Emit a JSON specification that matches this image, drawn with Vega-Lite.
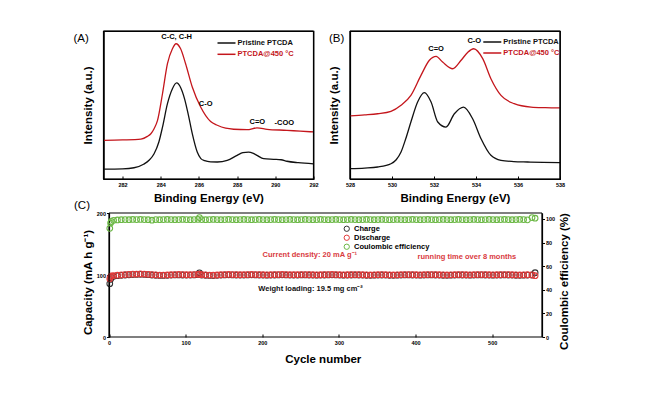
{
"$schema":"https://vega.github.io/schema/vega-lite/v6.json",
"background":"white",
"padding":{"left":72.5,"top":29,"right":5,"bottom":5},
"config":{
 "font":"Liberation Sans",
 "view":{"stroke":"#000000","strokeWidth":1.2},
 "axis":{"domain":true,"domainColor":"#000","domainWidth":1.2,"tickColor":"#000","tickWidth":1,"labelColor":"#000","titleColor":"#000","labelFont":"Liberation Sans","titleFont":"Liberation Sans","labelFontWeight":"bold","titleFontWeight":"bold","labelFontSize":5.5,"titleFontSize":11.5,"grid":false,"labelOverlap":false,"labelFlush":false},
 "title":{"font":"Liberation Sans","fontSize":11.5,"fontWeight":"normal","color":"#000","anchor":"start","frame":"group"},
 "legend":{"labelFont":"Liberation Sans","labelFontWeight":"bold","labelFontSize":7.5,"padding":0}
},
"datasets":{
 "xpsA":[
  {"s":"Pristine PTCDA","e":281.0,"i":6.7},{"s":"Pristine PTCDA","e":282.0,"i":6.9},{"s":"Pristine PTCDA","e":282.6,"i":7.6},{"s":"Pristine PTCDA","e":283.1,"i":10.0},{"s":"Pristine PTCDA","e":283.4,"i":12.8},{"s":"Pristine PTCDA","e":283.65,"i":17.1},{"s":"Pristine PTCDA","e":283.9,"i":25},{"s":"Pristine PTCDA","e":284.09,"i":35},{"s":"Pristine PTCDA","e":284.35,"i":50.9},{"s":"Pristine PTCDA","e":284.61,"i":61},{"s":"Pristine PTCDA","e":284.83,"i":64.9},{"s":"Pristine PTCDA","e":285.05,"i":61.5},{"s":"Pristine PTCDA","e":285.25,"i":54},{"s":"Pristine PTCDA","e":285.45,"i":43},{"s":"Pristine PTCDA","e":285.65,"i":30.6},{"s":"Pristine PTCDA","e":285.91,"i":18.2},{"s":"Pristine PTCDA","e":286.1,"i":13.8},{"s":"Pristine PTCDA","e":286.3,"i":12.4},{"s":"Pristine PTCDA","e":286.61,"i":11.6},{"s":"Pristine PTCDA","e":286.96,"i":11.5},{"s":"Pristine PTCDA","e":287.48,"i":12.6},{"s":"Pristine PTCDA","e":288.0,"i":16},{"s":"Pristine PTCDA","e":288.3,"i":17.8},{"s":"Pristine PTCDA","e":288.6,"i":18.2},{"s":"Pristine PTCDA","e":288.85,"i":17.3},{"s":"Pristine PTCDA","e":289.04,"i":16},{"s":"Pristine PTCDA","e":289.39,"i":13.7},{"s":"Pristine PTCDA","e":289.91,"i":13.3},{"s":"Pristine PTCDA","e":290.3,"i":13.0},{"s":"Pristine PTCDA","e":290.61,"i":12.0},{"s":"Pristine PTCDA","e":291.2,"i":11.0},{"s":"Pristine PTCDA","e":292.0,"i":10.2},
  {"s":"PTCDA@450 °C","e":281.0,"i":26.1},{"s":"PTCDA@450 °C","e":282.0,"i":26.4},{"s":"PTCDA@450 °C","e":282.96,"i":27},{"s":"PTCDA@450 °C","e":283.3,"i":28.8},{"s":"PTCDA@450 °C","e":283.48,"i":30.6},{"s":"PTCDA@450 °C","e":283.65,"i":34},{"s":"PTCDA@450 °C","e":283.83,"i":39.6},{"s":"PTCDA@450 °C","e":284.09,"i":57.6},{"s":"PTCDA@450 °C","e":284.35,"i":77.9},{"s":"PTCDA@450 °C","e":284.61,"i":88},{"s":"PTCDA@450 °C","e":284.8,"i":91.4},{"s":"PTCDA@450 °C","e":285.04,"i":88},{"s":"PTCDA@450 °C","e":285.3,"i":77.9},{"s":"PTCDA@450 °C","e":285.65,"i":62.2},{"s":"PTCDA@450 °C","e":286.09,"i":48.6},{"s":"PTCDA@450 °C","e":286.61,"i":38.8},{"s":"PTCDA@450 °C","e":286.96,"i":36.3},{"s":"PTCDA@450 °C","e":287.4,"i":34.3},{"s":"PTCDA@450 °C","e":287.82,"i":33.6},{"s":"PTCDA@450 °C","e":288.52,"i":33.3},{"s":"PTCDA@450 °C","e":289.04,"i":34.5},{"s":"PTCDA@450 °C","e":289.57,"i":33.6},{"s":"PTCDA@450 °C","e":290.61,"i":32.9},{"s":"PTCDA@450 °C","e":291.3,"i":32.3},{"s":"PTCDA@450 °C","e":292.0,"i":31.8}
 ],
 "xpsB":[
  {"s":"Pristine PTCDA","e":528.0,"i":7},{"s":"Pristine PTCDA","e":528.7,"i":7.4},{"s":"Pristine PTCDA","e":529.32,"i":8.1},{"s":"Pristine PTCDA","e":529.95,"i":10.3},{"s":"Pristine PTCDA","e":530.2,"i":13},{"s":"Pristine PTCDA","e":530.43,"i":18.2},{"s":"Pristine PTCDA","e":530.65,"i":27},{"s":"Pristine PTCDA","e":530.9,"i":38.5},{"s":"Pristine PTCDA","e":531.22,"i":52},{"s":"Pristine PTCDA","e":531.54,"i":58.3},{"s":"Pristine PTCDA","e":531.86,"i":52},{"s":"Pristine PTCDA","e":532.18,"i":38.5},{"s":"Pristine PTCDA","e":532.57,"i":35.1},{"s":"Pristine PTCDA","e":532.97,"i":44.1},{"s":"Pristine PTCDA","e":533.41,"i":48.6},{"s":"Pristine PTCDA","e":533.84,"i":40.7},{"s":"Pristine PTCDA","e":534.24,"i":27.2},{"s":"Pristine PTCDA","e":534.71,"i":16},{"s":"Pristine PTCDA","e":535.19,"i":12.6},{"s":"Pristine PTCDA","e":535.8,"i":11.8},{"s":"Pristine PTCDA","e":536.46,"i":11.5},{"s":"Pristine PTCDA","e":537.2,"i":11.2},{"s":"Pristine PTCDA","e":538.0,"i":11},
  {"s":"PTCDA@450 °C","e":528.0,"i":42.6},{"s":"PTCDA@450 °C","e":528.7,"i":43.3},{"s":"PTCDA@450 °C","e":529.32,"i":44.1},{"s":"PTCDA@450 °C","e":529.95,"i":45.7},{"s":"PTCDA@450 °C","e":530.43,"i":49.8},{"s":"PTCDA@450 °C","e":530.9,"i":56.5},{"s":"PTCDA@450 °C","e":531.38,"i":70},{"s":"PTCDA@450 °C","e":531.78,"i":80.2},{"s":"PTCDA@450 °C","e":532.1,"i":82.9},{"s":"PTCDA@450 °C","e":532.41,"i":79},{"s":"PTCDA@450 °C","e":532.89,"i":74.5},{"s":"PTCDA@450 °C","e":533.29,"i":80.2},{"s":"PTCDA@450 °C","e":533.6,"i":85.5},{"s":"PTCDA@450 °C","e":533.89,"i":88},{"s":"PTCDA@450 °C","e":534.32,"i":81.3},{"s":"PTCDA@450 °C","e":534.71,"i":67.8},{"s":"PTCDA@450 °C","e":535.19,"i":56.5},{"s":"PTCDA@450 °C","e":535.82,"i":50.9},{"s":"PTCDA@450 °C","e":536.62,"i":48.6},{"s":"PTCDA@450 °C","e":537.3,"i":48.2},{"s":"PTCDA@450 °C","e":538.0,"i":48}
 ],
 "cyc":[
  {"n":1,"c":86,"d":94,"e":92},{"n":2,"c":93,"d":97,"e":96.5},{"n":3,"c":96,"d":98.5,"e":97.8},{"n":6,"c":97.8,"d":99.0,"e":98.8},{"n":11,"c":98.8,"d":99.7,"e":99.1},{"n":16,"c":99.5,"d":100.2,"e":99.3},{"n":21,"c":100.0,"d":100.7,"e":99.4},{"n":26,"c":100.4,"d":101.1,"e":99.3},{"n":31,"c":100.7,"d":101.4,"e":99.5},{"n":36,"c":100.9,"d":101.6,"e":99.4},{"n":41,"c":101.1,"d":101.8,"e":99.5},{"n":46,"c":100.9,"d":101.6,"e":99.4},{"n":51,"c":100.5,"d":101.2,"e":99.3},{"n":56,"c":100.0,"d":100.7,"e":98.9},{"n":61,"c":99.6,"d":100.2,"e":99.4},{"n":66,"c":99.3,"d":99.9,"e":99.3},{"n":71,"c":99.2,"d":99.8,"e":99.4},{"n":76,"c":99.5,"d":100.1,"e":99.5},{"n":81,"c":99.8,"d":100.4,"e":99.4},{"n":86,"c":100.1,"d":100.7,"e":99.3},{"n":91,"c":100.2,"d":100.9,"e":99.4},{"n":96,"c":100.0,"d":100.7,"e":99.5},{"n":101,"c":99.8,"d":100.4,"e":99.4},{"n":106,"c":99.9,"d":100.5,"e":99.3},{"n":111,"c":100.2,"d":100.8,"e":99.4},{"n":116,"c":100.5,"d":101.1,"e":99.5},{"n":118,"c":103.5,"d":101.3,"e":101.1},{"n":121,"c":100.0,"d":100.6,"e":99.4},{"n":126,"c":99.6,"d":100.2,"e":99.3},{"n":131,"c":99.2,"d":99.8,"e":99.4},{"n":136,"c":99.1,"d":99.7,"e":99.5},{"n":141,"c":99.4,"d":100.0,"e":99.4},{"n":146,"c":99.8,"d":100.4,"e":99.3},{"n":151,"c":100.1,"d":100.7,"e":99.4},{"n":156,"c":100.3,"d":100.9,"e":99.5},{"n":161,"c":100.2,"d":100.8,"e":99.4},{"n":166,"c":100.0,"d":100.6,"e":99.3},{"n":171,"c":99.8,"d":100.4,"e":99.4},{"n":176,"c":99.9,"d":100.5,"e":99.5},{"n":181,"c":100.1,"d":100.7,"e":99.4},{"n":186,"c":100.3,"d":100.9,"e":99.3},{"n":191,"c":100.2,"d":100.8,"e":99.4},{"n":196,"c":100.0,"d":100.6,"e":99.5},{"n":201,"c":99.8,"d":100.4,"e":99.4},{"n":206,"c":99.7,"d":100.3,"e":99.3},{"n":211,"c":99.8,"d":100.4,"e":99.4},{"n":216,"c":100.0,"d":100.6,"e":99.5},{"n":221,"c":100.2,"d":100.8,"e":99.4},{"n":226,"c":100.3,"d":100.9,"e":99.3},{"n":231,"c":100.1,"d":100.7,"e":99.4},{"n":236,"c":99.9,"d":100.5,"e":99.5},{"n":241,"c":99.8,"d":100.4,"e":99.4},{"n":246,"c":99.9,"d":100.5,"e":99.3},{"n":251,"c":100.1,"d":100.7,"e":99.4},{"n":256,"c":100.2,"d":100.8,"e":99.5},{"n":261,"c":100.0,"d":100.6,"e":99.4},{"n":266,"c":99.8,"d":100.4,"e":99.3},{"n":271,"c":99.7,"d":100.3,"e":99.4},{"n":276,"c":99.8,"d":100.4,"e":99.5},{"n":281,"c":100.0,"d":100.6,"e":99.4},{"n":286,"c":100.2,"d":100.8,"e":99.3},{"n":291,"c":100.3,"d":100.9,"e":99.4},{"n":296,"c":100.1,"d":100.7,"e":99.5},{"n":301,"c":99.9,"d":100.5,"e":99.4},{"n":306,"c":99.7,"d":100.3,"e":99.3},{"n":311,"c":99.8,"d":100.4,"e":99.4},{"n":316,"c":100.0,"d":100.6,"e":99.5},{"n":321,"c":100.1,"d":100.7,"e":99.4},{"n":326,"c":100.0,"d":100.6,"e":99.3},{"n":331,"c":99.8,"d":100.4,"e":99.4},{"n":336,"c":99.6,"d":100.2,"e":99.5},{"n":341,"c":99.5,"d":100.1,"e":99.4},{"n":346,"c":99.7,"d":100.3,"e":99.3},{"n":351,"c":99.9,"d":100.5,"e":99.4},{"n":356,"c":100.0,"d":100.6,"e":99.5},{"n":361,"c":99.9,"d":100.5,"e":99.4},{"n":366,"c":99.6,"d":100.2,"e":99.3},{"n":371,"c":99.5,"d":100.1,"e":99.4},{"n":376,"c":99.7,"d":100.3,"e":99.5},{"n":381,"c":99.9,"d":100.5,"e":99.4},{"n":386,"c":100.1,"d":100.7,"e":99.3},{"n":391,"c":100.2,"d":100.8,"e":99.4},{"n":396,"c":100.0,"d":100.6,"e":99.5},{"n":401,"c":99.8,"d":100.4,"e":99.4},{"n":406,"c":99.7,"d":100.3,"e":99.3},{"n":411,"c":99.9,"d":100.5,"e":99.4},{"n":416,"c":100.1,"d":100.7,"e":99.5},{"n":421,"c":100.2,"d":100.8,"e":99.4},{"n":426,"c":100.0,"d":100.6,"e":99.3},{"n":431,"c":99.8,"d":100.4,"e":99.4},{"n":436,"c":99.6,"d":100.2,"e":99.5},{"n":441,"c":99.5,"d":100.1,"e":99.4},{"n":446,"c":99.7,"d":100.3,"e":99.3},{"n":451,"c":99.9,"d":100.5,"e":99.4},{"n":456,"c":100.1,"d":100.7,"e":99.5},{"n":461,"c":100.0,"d":100.6,"e":99.4},{"n":466,"c":99.8,"d":100.4,"e":99.3},{"n":471,"c":99.7,"d":100.3,"e":99.4},{"n":476,"c":99.9,"d":100.5,"e":99.5},{"n":481,"c":100.1,"d":100.7,"e":99.4},{"n":486,"c":100.2,"d":100.8,"e":99.3},{"n":491,"c":100.0,"d":100.6,"e":99.4},{"n":496,"c":99.8,"d":100.4,"e":99.5},{"n":501,"c":99.7,"d":100.3,"e":99.4},{"n":506,"c":99.8,"d":100.4,"e":99.3},{"n":511,"c":100.0,"d":100.6,"e":99.4},{"n":516,"c":100.1,"d":100.7,"e":99.5},{"n":521,"c":100.0,"d":100.6,"e":99.4},{"n":526,"c":99.8,"d":100.4,"e":99.3},{"n":531,"c":99.6,"d":100.2,"e":99.4},{"n":536,"c":99.5,"d":100.1,"e":99.5},{"n":541,"c":99.7,"d":100.3,"e":99.4},{"n":546,"c":99.8,"d":100.4,"e":99.2},{"n":552,"c":100.0,"d":100.2,"e":101.1},{"n":556,"c":103.7,"d":98.9,"e":100.6}
 ]
},
"resolve":{"scale":{"color":"independent"}},
"spacing":-6,
"vconcat":[
 {"hconcat":[
  {"width":210,"height":148,
   "view":{"stroke":"#000000","strokeWidth":1.2},
   "title":{"text":"(A)","dx":-30,"dy":14,"offset":0},
   "layer":[
    {"data":{"name":"xpsA"},
     "mark":{"type":"line","interpolate":"monotone","strokeWidth":1.3},
     "encoding":{
      "x":{"field":"e","type":"quantitative","scale":{"domain":[281,292],"nice":false,"zero":false},
           "axis":{"title":"Binding Energy (eV)","values":[282,284,286,288,290,292],"format":"d","labelOverlap":false,"labelFlush":false,"tickSize":-3,"labelPadding":6,"titlePadding":5}},
      "y":{"field":"i","type":"quantitative","scale":{"domain":[0,100],"nice":false},"axis":{"title":"Intensity (a.u.)","labels":false,"ticks":false,"domain":true,"titlePadding":10.5}},
      "color":{"field":"s","type":"nominal","scale":{"domain":["Pristine PTCDA","PTCDA@450 °C"],"range":["#111111","#c4161c"]},
        "legend":{"orient":"none","legendX":117.5,"legendY":6.5,"title":null,"symbolType":"M-2,0H2","symbolSize":81,"symbolStrokeWidth":1.5,"rowPadding":2.3,"labelOffset":5.5,"padding":0,
          "encode":{"labels":{"update":{"fill":{"signal":"datum.value === 'Pristine PTCDA' ? '#111111' : '#c4161c'"}}}}}}
     }},
    {"data":{"values":[{"t":"C-C, C-H","e":284.83,"i":96},{"t":"C-O","e":286.35,"i":50.7},{"t":"C=O","e":289.06,"i":38.5},{"t":"-COO","e":290.47,"i":37.8}]},
     "mark":{"type":"text","fontSize":7.5,"fontWeight":"bold","color":"#000"},
     "encoding":{"x":{"field":"e","type":"quantitative"},"y":{"field":"i","type":"quantitative"},"text":{"field":"t"}}},
    {"data":{"values":[{}]},"mark":{"type":"rule","color":"#000","strokeWidth":1.2},"encoding":{"x":{"datum":281},"x2":{"datum":292},"y":{"datum":100}}},
    {"data":{"values":[{}]},"mark":{"type":"rule","color":"#000","strokeWidth":1.2},"encoding":{"x":{"datum":281},"x2":{"datum":292},"y":{"datum":0}}},
    {"data":{"values":[{}]},"mark":{"type":"rule","color":"#000","strokeWidth":1.2},"encoding":{"x":{"datum":281},"y":{"datum":0},"y2":{"datum":100}}},
    {"data":{"values":[{}]},"mark":{"type":"rule","color":"#000","strokeWidth":1.2},"encoding":{"x":{"datum":292},"y":{"datum":0},"y2":{"datum":100}}}
   ]},
  {"width":210,"height":148,
   "view":{"stroke":"#000000","strokeWidth":1.2},
   "title":{"text":"(B)","dx":-21,"dy":14,"offset":0},
   "layer":[
    {"data":{"name":"xpsB"},
     "mark":{"type":"line","interpolate":"monotone","strokeWidth":1.3},
     "encoding":{
      "x":{"field":"e","type":"quantitative","scale":{"domain":[528,538],"nice":false,"zero":false},
           "axis":{"title":"Binding Energy (eV)","values":[528,530,532,534,536,538],"format":"d","labelOverlap":false,"labelFlush":false,"tickSize":-3,"labelPadding":6,"titlePadding":5}},
      "y":{"field":"i","type":"quantitative","scale":{"domain":[0,100],"nice":false},"axis":{"title":"Intensity (a.u.)","labels":false,"ticks":false,"domain":true,"titlePadding":10.5}},
      "color":{"field":"s","type":"nominal","scale":{"domain":["Pristine PTCDA","PTCDA@450 °C"],"range":["#111111","#c4161c"]},
        "legend":{"orient":"none","legendX":136.8,"legendY":5.5,"title":null,"symbolType":"M-2,0H2","symbolSize":81,"symbolStrokeWidth":1.5,"rowPadding":2,"labelOffset":5.5,"padding":0,
          "encode":{"labels":{"update":{"fill":{"signal":"datum.value === 'Pristine PTCDA' ? '#111111' : '#c4161c'"}}}}}}
     }},
    {"data":{"values":[{"t":"C=O","e":532.1,"i":87.6},{"t":"C-O","e":533.92,"i":93}]},
     "mark":{"type":"text","fontSize":7.5,"fontWeight":"bold","color":"#000"},
     "encoding":{"x":{"field":"e","type":"quantitative"},"y":{"field":"i","type":"quantitative"},"text":{"field":"t"}}},
    {"data":{"values":[{}]},"mark":{"type":"rule","color":"#000","strokeWidth":1.2},"encoding":{"x":{"datum":528},"x2":{"datum":538},"y":{"datum":100}}},
    {"data":{"values":[{}]},"mark":{"type":"rule","color":"#000","strokeWidth":1.2},"encoding":{"x":{"datum":528},"x2":{"datum":538},"y":{"datum":0}}},
    {"data":{"values":[{}]},"mark":{"type":"rule","color":"#000","strokeWidth":1.2},"encoding":{"x":{"datum":528},"y":{"datum":0},"y2":{"datum":100}}},
    {"data":{"values":[{}]},"mark":{"type":"rule","color":"#000","strokeWidth":1.2},"encoding":{"x":{"datum":538},"y":{"datum":0},"y2":{"datum":100}}}
   ]}
 ],"spacing":36.5,"bounds":"flush","resolve":{"scale":{"color":"independent"}}},
 {"width":438.5,"height":124,
  "view":{"stroke":null},
  "title":{"text":"(C)","dx":-29.5,"offset":0},
  "layer":[
   {"layer":[
    {"data":{"name":"cyc"},"mark":{"type":"point","filled":false,"size":32,"strokeWidth":1.1,"opacity":1},
     "encoding":{
      "x":{"field":"n","type":"quantitative","scale":{"domain":[-7.2,565],"nice":false,"zero":false},
           "axis":{"title":"Cycle number","values":[0,100,200,300,400,500],"format":"d","labelOverlap":false,"labelFlush":false,"domain":false,"tickSize":-3,"labelPadding":6,"titlePadding":8}},
      "y":{"field":"c","type":"quantitative","scale":{"domain":[0,200],"nice":false},
           "axis":{"title":"Capacity (mA h g⁻¹)","offset":-5.5,"values":[0,50,100,150,200],"format":"d","labelOverlap":false,"labelFlush":false,"tickSize":2.5,"labelPadding":1,"titlePadding":3,"titleY":69}},
      "color":{"datum":"Charge","type":"nominal","scale":{"domain":["Charge","Discharge","Coulombic efficiency"],"range":["#333333","#e23b3b","#6cb846"]},
        "legend":{"orient":"none","legendX":239.5,"legendY":12,"title":null,"symbolSize":28,"symbolStrokeWidth":1,"rowPadding":-1,"labelOffset":3.5,"padding":0,
          "encode":{"labels":{"update":{"fill":{"signal":"datum.value === 'Charge' ? '#111111' : datum.value === 'Discharge' ? '#e23b3b' : '#5aa83a'"}}}}}}
     }},
    {"data":{"name":"cyc"},"mark":{"type":"point","filled":false,"size":32,"strokeWidth":1.1,"opacity":1},
     "encoding":{"x":{"field":"n","type":"quantitative"},"y":{"field":"d","type":"quantitative"},"color":{"datum":"Discharge","type":"nominal"}}},
    {"data":{"values":[{"t":"Current density: 20 mA g⁻¹","n":262,"v":132},{"t":"running time over 8 months","n":467,"v":129}]},
     "mark":{"type":"text","fontSize":7.5,"fontWeight":"bold","color":"#d9393e"},
     "encoding":{"x":{"field":"n","type":"quantitative"},"y":{"field":"v","type":"quantitative"},"text":{"field":"t"}}},
    {"data":{"values":[{"t":"Weight loading: 19.5 mg cm⁻²","n":263,"v":77}]},
     "mark":{"type":"text","fontSize":7.5,"fontWeight":"bold","color":"#111111"},
     "encoding":{"x":{"field":"n","type":"quantitative"},"y":{"field":"v","type":"quantitative"},"text":{"field":"t"}}},
    {"data":{"values":[{}]},"mark":{"type":"rule","color":"#000","strokeWidth":1.2},"encoding":{"x":{"datum":0},"x2":{"datum":565},"y":{"datum":200}}},
    {"data":{"values":[{}]},"mark":{"type":"rule","color":"#000","strokeWidth":1.2},"encoding":{"x":{"datum":0},"x2":{"datum":565},"y":{"datum":0}}},
    {"data":{"values":[{}]},"mark":{"type":"rule","color":"#000","strokeWidth":1.2},"encoding":{"x":{"datum":0},"y":{"datum":0},"y2":{"datum":200}}},
    {"data":{"values":[{}]},"mark":{"type":"rule","color":"#000","strokeWidth":1.2},"encoding":{"x":{"datum":565},"y":{"datum":0},"y2":{"datum":200}}}
   ]},
   {"data":{"name":"cyc"},"mark":{"type":"point","filled":false,"size":32,"strokeWidth":1.1,"opacity":1},
    "encoding":{"x":{"field":"n","type":"quantitative"},
     "y":{"field":"e","type":"quantitative","scale":{"domain":[0,105],"nice":false},
          "axis":{"orient":"right","title":"Coulombic efficiency (%)","values":[0,20,40,60,80,100],"format":"d","labelOverlap":false,"labelFlush":false,"tickSize":2.5,"labelPadding":1,"titlePadding":4,"titleAngle":270,"titleBaseline":"top","titleY":68}},
     "color":{"datum":"Coulombic efficiency","type":"nominal"}}}
  ],
  "resolve":{"scale":{"y":"independent"}}
 }
]
}
